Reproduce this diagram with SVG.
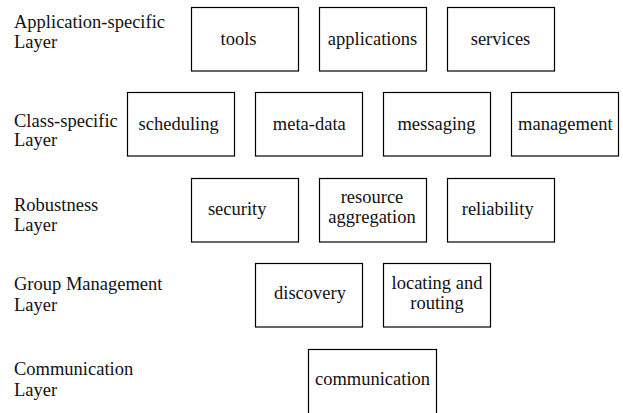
<svg xmlns="http://www.w3.org/2000/svg" width="623" height="413" viewBox="0 0 623 413" font-family="'Liberation Serif', 'Times New Roman', 'DejaVu Serif', serif" font-size="18.5">
<style>
  .box { fill: #ffffff; stroke: #000000; stroke-width: 1.2; }
  text { fill: #111111; }
  .c { text-anchor: middle; }
</style>
<rect width="623" height="413" fill="#ffffff"/>
<g id="layer-labels">
  <g id="label-application"><text x="14" y="28">Application-specific</text><text x="14" y="48">Layer</text></g>
  <g id="label-class"><text x="14" y="126.5">Class-specific</text><text x="14" y="146">Layer</text></g>
  <g id="label-robustness"><text x="14" y="210.5">Robustness</text><text x="14" y="231">Layer</text></g>
  <g id="label-group"><text x="14" y="290">Group Management</text><text x="14" y="311">Layer</text></g>
  <g id="label-communication"><text x="14" y="375">Communication</text><text x="14" y="396">Layer</text></g>
</g>
<g id="connectors"/>
<g id="tools"><rect class="box" x="191.5" y="7.5" width="107" height="63.5"/><text class="c" x="238.5" y="45">tools</text></g>
<g id="applications"><rect class="box" x="319.5" y="7.5" width="107" height="63.5"/><text class="c" x="372.5" y="45">applications</text></g>
<g id="services"><rect class="box" x="447.5" y="7.5" width="107" height="63.5"/><text class="c" x="500.5" y="45">services</text></g>
<g id="scheduling"><rect class="box" x="127.5" y="92.5" width="107" height="63.5"/><text class="c" x="178.7" y="129.5">scheduling</text></g>
<g id="meta-data"><rect class="box" x="255.5" y="92.5" width="107" height="63.5"/><text class="c" x="309.3" y="129.5">meta-data</text></g>
<g id="messaging"><rect class="box" x="383.5" y="92.5" width="107" height="63.5"/><text class="c" x="436.5" y="129.5">messaging</text></g>
<g id="management"><rect class="box" x="511.5" y="92.5" width="107" height="63.5"/><text class="c" x="565.3" y="129.5">management</text></g>
<g id="security"><rect class="box" x="191.5" y="178.5" width="107" height="63.5"/><text class="c" x="237.2" y="214.5">security</text></g>
<g id="resource-aggregation"><rect class="box" x="319.5" y="178.5" width="107" height="63.5"/><text class="c" x="372" y="202.5">resource</text><text class="c" x="372" y="222.5">aggregation</text></g>
<g id="reliability"><rect class="box" x="447.5" y="178.5" width="107" height="63.5"/><text class="c" x="497.7" y="214.5">reliability</text></g>
<g id="discovery"><rect class="box" x="255.5" y="263.5" width="107" height="63.5"/><text class="c" x="310" y="298.5">discovery</text></g>
<g id="locating-routing"><rect class="box" x="383.5" y="263.5" width="107" height="63.5"/><text class="c" x="437" y="288.5">locating and</text><text class="c" x="437" y="308.5">routing</text></g>
<g id="communication"><rect class="box" x="308.5" y="349.5" width="128" height="80"/><text class="c" x="372.5" y="384.5">communication</text></g>
</svg>
